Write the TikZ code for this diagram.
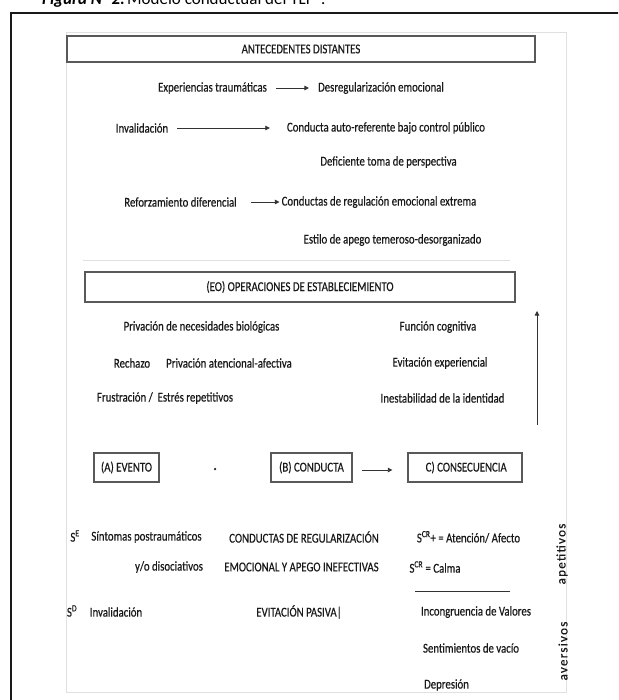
\documentclass[tikz,border=0pt]{standalone}
\usepackage{fontspec}
\setmainfont{Carlito}
\newfontfamily\diagfont[FakeStretch=0.8, FakeBold=0.4]{Carlito}
\newfontfamily\rotfont[LetterSpace=10, FakeBold=0.4]{Carlito}
\usetikzlibrary{arrows.meta}
\tikzset{
  txt/.style={font=\diagfont\fontsize{13.5}{15}\selectfont, text=black!90, inner sep=0pt},
  boxed/.style={txt, draw=black!65, line width=1.3pt},
  arr/.style={-{Triangle[length=4.5pt,width=4.5pt]}, line width=0.8pt, draw=black!80},
  frame/.style={line width=2pt, draw=black!90},
  faint/.style={draw=black!12, line width=0.8pt}
}
\begin{document}
\begin{tikzpicture}[x=1pt,y=-1pt]
\useasboundingbox (0,0) rectangle (618,700);
\clip (0,0) rectangle (618,700);
\fill[white] (0,0) rectangle (618,700);
% title (cut off at top)
\node[anchor=base west, inner sep=0pt, font=\fontsize{17}{20}\selectfont\bfseries\itshape] (fig) at (42,5) {Figura N° 2.};
\node[anchor=base west, inner sep=0pt, font=\fontsize{17}{20}\selectfont] (tit) at (127,5) {Modelo conductual del TLP\textsuperscript{2}.};
% outer frame
\draw[frame] (10,13) -- (620,13);
\draw[frame] (11,12) -- (11,702);
% faint picture border
\draw[faint] (66,32) rectangle (566,692);
\draw[faint] (83,260) -- (510,260);

% Antecedentes
\node[boxed, minimum width=468pt, minimum height=26pt] (ant) at (301,49) {ANTECEDENTES DISTANTES};
\node[txt] (exp) at (212.5,88) {Experiencias traumáticas};
\node[txt] (desreg) at (381,88) {Desregularización emocional};
\node[txt] (inval) at (142,128) {Invalidación};
\node[txt] (autoref) at (386,128) {Conducta auto-referente bajo control público};
\node[txt] (defic) at (388.5,162) {Deficiente toma de perspectiva};
\node[txt] (reforz) at (180.5,202) {Reforzamiento diferencial};
\node[txt] (extrema) at (379,202) {Conductas de regulación emocional extrema};
\node[txt] (apego) at (392.5,240) {Estilo de apego temeroso-desorganizado};
\draw[arr, shorten <=9pt, shorten >=9pt] (exp) -- (desreg);
\draw[arr, shorten <=9pt, shorten >=17pt] (inval) -- (autoref);
\draw[arr, shorten <=14pt, shorten >=2pt] (reforz) -- (extrema);

% EO
\node[boxed, minimum width=430pt, minimum height=30pt] (eo) at (300,287) {(EO) OPERACIONES DE ESTABLECIEMIENTO};
\node[txt] (priv) at (201.5,327) {Privación de necesidades biológicas};
\node[txt] (func) at (438,327) {Función cognitiva};
\node[txt] (rech) at (132,363) {Rechazo};
\node[txt] (privat) at (229,363) {Privación atencional-afectiva};
\node[txt] (evit) at (440,363) {Evitación experiencial};
\node[txt] (frust) at (165,398) {Frustración /\ \ Estrés repetitivos};
\node[txt] (inest) at (442.5,398) {Inestabilidad de la identidad};
\coordinate (upb) at (537,425);
\coordinate (upt) at (537,311);
\draw[arr] (upb) -- (upt);

% A B C
\node[boxed, minimum width=65pt, minimum height=29pt] (ev) at (126.5,467.5) {(A) EVENTO};
\node[fill=black!85, circle, inner sep=0pt, minimum size=2.5pt] (dot) at (215,469) {};
\node[boxed, minimum width=81pt, minimum height=29pt] (cond) at (311.5,467.5) {(B) CONDUCTA};
\node[boxed, minimum width=114pt, minimum height=29pt] (cons) at (465,467.5) {\ C) CONSECUENCIA};
\draw[arr, shorten <=9pt, shorten >=15pt] (cond.east |- 0,470) coordinate (ce) -- (cons.west |- 0,470) coordinate (cw);

% bottom rows
\node[txt] (se) at (75,536) {S\textsuperscript{E}};
\node[txt] (sint) at (146.5,537) {Síntomas postraumáticos};
\node[txt] (creg) at (304,537) {CONDUCTAS DE REGULARIZACIÓN};
\node[txt] (scr1) at (468.5,537) {S\textsuperscript{CR}+ = Atención/ Afecto};
\node[txt] (yo) at (169,567) {y/o disociativos};
\node[txt] (emoc) at (301.5,567) {EMOCIONAL Y APEGO INEFECTIVAS};
\node[txt] (scr2) at (435,567) {S\textsuperscript{CR} = Calma};
\coordinate (ll) at (415,591);
\coordinate (lr) at (510,591);
\draw[line width=1pt, draw=black!80] (ll) -- (lr);
\node[txt] (sd) at (72,611) {S\textsuperscript{D}};
\node[txt] (inval2) at (116,612) {Invalidación};
\node[txt] (evpas) at (299,612) {EVITACIÓN PASIVA|};
\node[txt] (incong) at (476,612) {Incongruencia de Valores};
\node[txt] (sent) at (471,648) {Sentimientos de vacío};
\node[txt] (depr) at (446.5,685) {Depresión};
\node[txt, rotate=90, font=\rotfont\fontsize{13}{15}\selectfont] (apet) at (562,554) {apetitivos};
\node[txt, rotate=90, font=\rotfont\fontsize{13}{15}\selectfont] (avers) at (563,651) {aversivos};
\end{tikzpicture}
\end{document}
